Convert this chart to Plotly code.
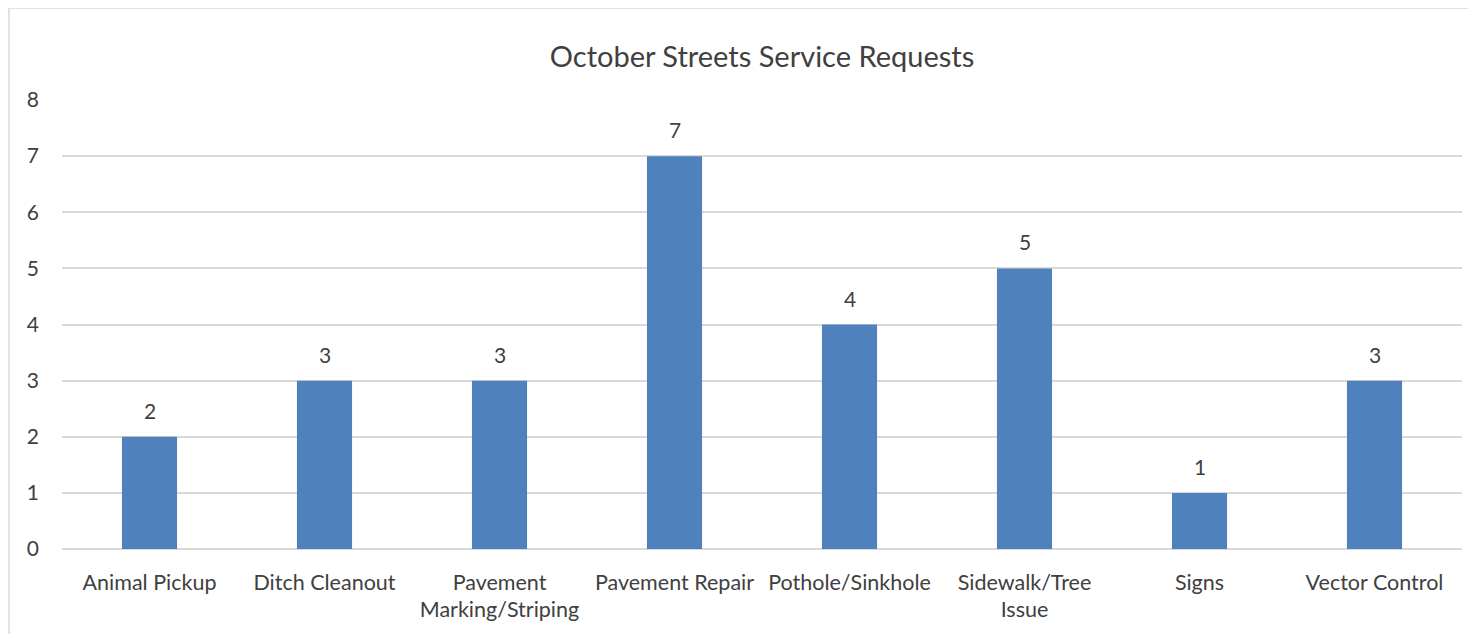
import plotly.graph_objects as go

categories = ["Animal Pickup", "Ditch Cleanout", "Pavement<br>Marking/Striping", "Pavement Repair",
              "Pothole/Sinkhole", "Sidewalk/Tree<br>Issue", "Signs", "Vector Control"]
values = [2, 3, 3, 7, 4, 5, 1, 3]
y_ticks = [0, 1, 2, 3, 4, 5, 6, 7, 8]

FONT = "Lato"
TXT = "#404040"
OFF = 8  # page body margin offset

fig = go.Figure()
fig.add_trace(go.Bar(
    x=categories, y=values, width=0.315,
    marker=dict(color="#4F81BD", line=dict(width=0)),
))

for c, v in zip(categories, values):
    fig.add_annotation(x=c, y=v, text=str(v), showarrow=False, yanchor="bottom", yshift=12,
                       font=dict(family=FONT, size=21, color=TXT))

fig.update_layout(
    width=1476, height=634,
    margin=dict(l=62 - OFF, r=14 + OFF, t=100 - OFF, b=85 + OFF),
    paper_bgcolor="white", plot_bgcolor="white",
    showlegend=False,
    title=dict(text="October Streets Service Requests", x=0.5, xref="paper",
               y=1 - (57 - OFF) / 634, yanchor="middle",
               font=dict(family=FONT, size=29, color=TXT)),
    xaxis=dict(showgrid=False, showline=False, zeroline=False, ticks="",
               tickfont=dict(family=FONT, size=21.5, color=TXT), ticklabelstandoff=18),
    yaxis=dict(range=[0, 8], tickvals=y_ticks, showgrid=True, gridcolor="#d9d9d9", gridwidth=1.5,
               zeroline=True, zerolinecolor="#d9d9d9", zerolinewidth=1.5, showline=False, ticks="",
               tickfont=dict(family=FONT, size=21, color=TXT), ticklabelstandoff=22),
    bargap=0.685,
)

fig.add_shape(type="rect", xref="paper", yref="paper",
              x0=(9 - 62) / 1400, x1=1.2, y0=-0.5, y1=(549 - 8) / 449,
              line=dict(color="#d9d9d9", width=1.5), fillcolor="rgba(0,0,0,0)", layer="below")

fig.write_html("out.html")
